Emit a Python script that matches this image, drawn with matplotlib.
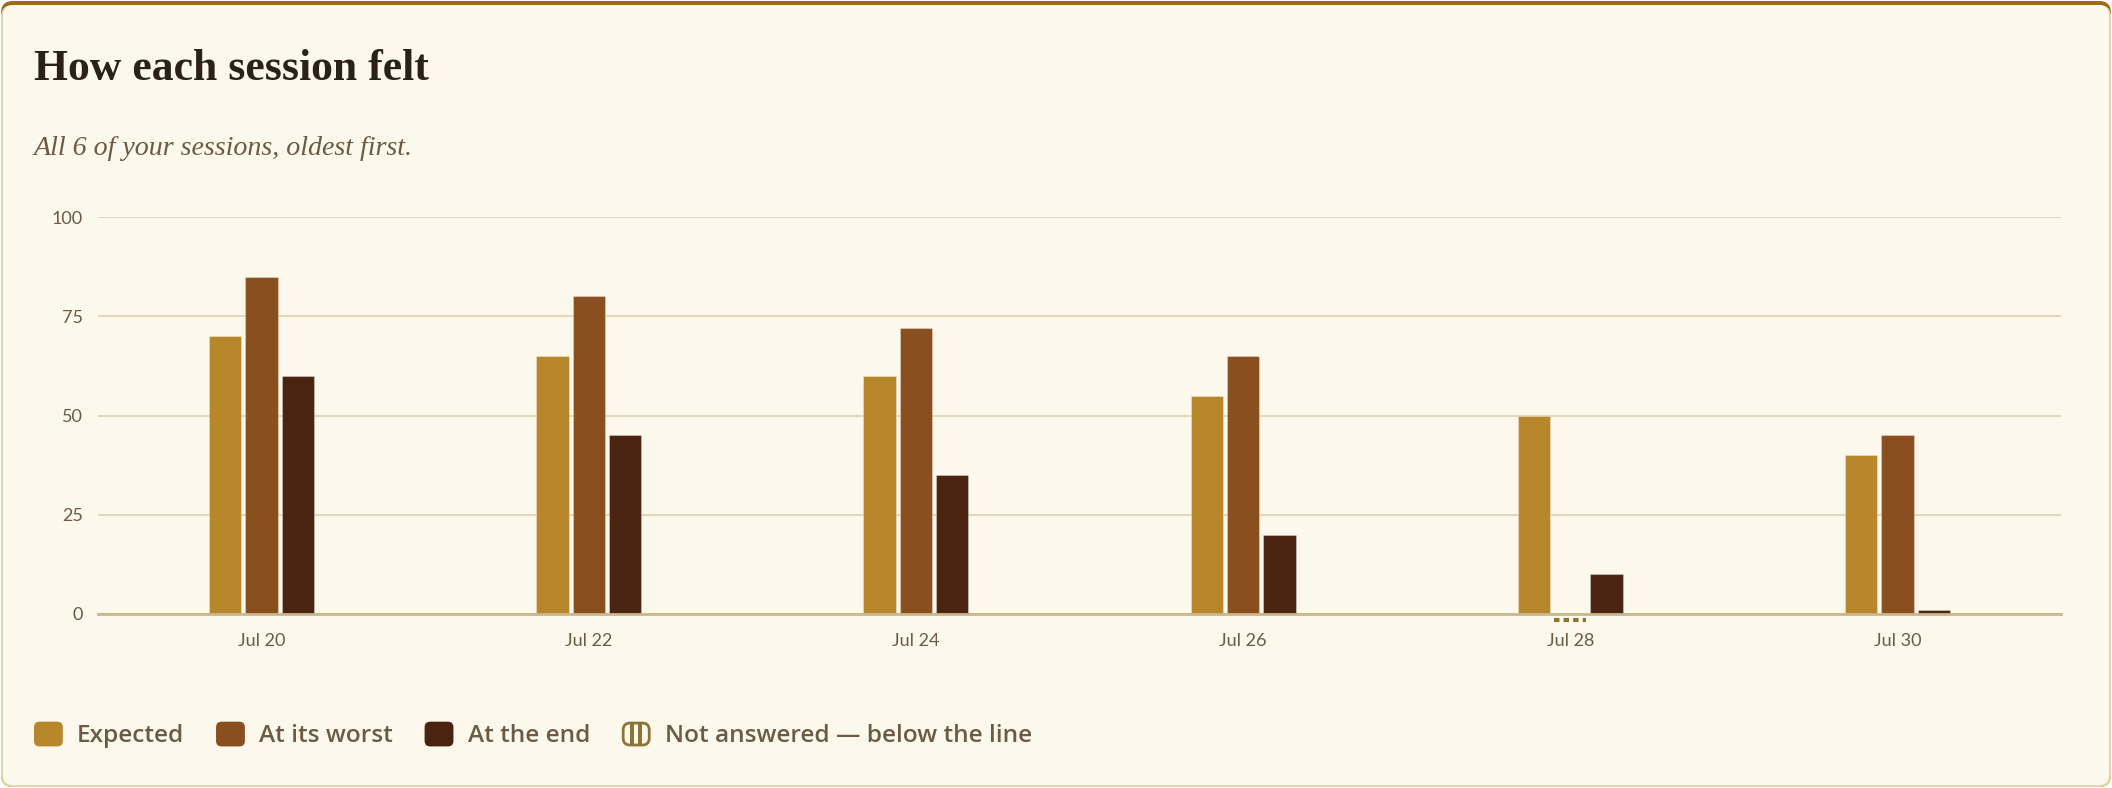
"""How each session felt: grouped bars per session."""

import numpy as np
import matplotlib
matplotlib.use("Agg")
import matplotlib.pyplot as plt
from matplotlib.patches import FancyBboxPatch, Patch, Rectangle
from matplotlib.legend_handler import HandlerPatch
from matplotlib.transforms import IdentityTransform

# ---------- Data ---------- #
dates = ["Jul 20", "Jul 22", "Jul 24", "Jul 26", "Jul 28", "Jul 30"]
expected = [70, 65, 60, 55, 50, 40]
worst = [85, 80, 72, 65, None, 45]
at_end = [60, 45, 35, 20, 10, 1]
series_names = ["Expected", "At its worst", "At the end"]
missing_label = "Not answered \u2014 below the line"
y_ticks = [0, 25, 50, 75, 100]

# ---------- Style ---------- #
W, H = 2112, 788
BG = "#FCF8EC"
GOLD = "#B8862B"
RUST = "#8A4F1F"
DARK = "#4A2311"
MISS = "#8B7536"
GRID = "#E3D8B5"
BASE = "#C9B889"
MUTED = "#6B5A45"
INK = "#2B2116"
colors = [GOLD, RUST, DARK]

SANS = ["Lato", "DejaVu Sans"]
LEG_SANS = ["Open Sans", "Lato", "DejaVu Sans"]
SERIF = ["Liberation Serif", "DejaVu Serif"]


class RoundHandler(HandlerPatch):
    """Legend swatch drawn as a small rounded box."""

    def create_artists(self, legend, orig_handle, xdescent, ydescent,
                       width, height, fontsize, trans):
        p = FancyBboxPatch(
            (-xdescent, -ydescent), width, height,
            boxstyle="round,pad=0,rounding_size=4",
            facecolor=orig_handle.get_facecolor(),
            edgecolor=orig_handle.get_edgecolor(),
            linewidth=orig_handle.get_linewidth(),
            transform=trans,
        )
        return [p]


class StripeHandler(HandlerPatch):
    """Outlined rounded box with two upright stripes."""

    def create_artists(self, legend, orig_handle, xdescent, ydescent,
                       width, height, fontsize, trans):
        x0, y0 = -xdescent, -ydescent
        box = FancyBboxPatch(
            (x0 + 1, y0 + 1), width - 2, height - 2,
            boxstyle="round,pad=0,rounding_size=5",
            facecolor=BG, edgecolor=orig_handle.get_edgecolor(),
            linewidth=2, transform=trans,
        )
        bw = width * 0.13
        s1 = Rectangle((x0 + width * 0.30, y0 + 1), bw, height - 2,
                       facecolor=orig_handle.get_edgecolor(), edgecolor="none", transform=trans)
        s2 = Rectangle((x0 + width * 0.57, y0 + 1), bw, height - 2,
                       facecolor=orig_handle.get_edgecolor(), edgecolor="none", transform=trans)
        return [box, s1, s2]


fig = plt.figure(figsize=(W / 100, H / 100), dpi=100)
fig.patch.set_facecolor("white")

# card with a gold top edge
px = IdentityTransform()
fig.add_artist(FancyBboxPatch((1, 1), W - 2, H - 2, boxstyle="round,pad=0,rounding_size=12",
                              fc="#9C6B13", ec="none", transform=px, zorder=-10))
fig.add_artist(FancyBboxPatch((1, 1), W - 2, H - 6, boxstyle="round,pad=0,rounding_size=12",
                              fc="#E3D5AF", ec="none", transform=px, zorder=-9))
fig.add_artist(FancyBboxPatch((3, 3), W - 6, H - 8, boxstyle="round,pad=0,rounding_size=10",
                              fc=BG, ec="none", transform=px, zorder=-8))

fig.text(34 / W, 1 - 80 / H, "How each session felt", fontsize=31.5, fontweight="bold",
         family=SERIF, color=INK, va="baseline")
fig.text(34 / W, 1 - 155 / H, "All 6 of your sessions, oldest first.", fontsize=20.2,
         style="italic", family=SERIF, color=MUTED, va="baseline")

# ---------- Axes ---------- #
ax = fig.add_axes([98 / W, 1 - 614 / H, (2061 - 98) / W, (614 - 217) / H])
ax.set_facecolor("none")
x = np.arange(len(dates))
step = 0.111
width = 0.099

for i, (name, vals) in enumerate(zip(series_names, [expected, worst, at_end])):
    off = (i - 1) * step
    xs = [xi + off for xi, v in zip(x, vals) if v is not None]
    hs = [v for v in vals if v is not None]
    ax.bar(xs, hs, width=width, color=colors[i], edgecolor=(1, 1, 1, 0.3),
           linewidth=0.8, zorder=3)
    for xi, v in zip(x, vals):
        if v is None:
            ax.hlines(-1.6, xi + off - width / 2, xi + off + width / 2, colors=MISS,
                      linewidth=3, linestyles=(0, (1.3, 1.0)), clip_on=False, zorder=4)

ax.set_xlim(-0.5, len(dates) - 0.5)
ax.set_ylim(0, 100)
ax.set_xticks(x)
ax.set_xticklabels(dates)
ax.set_yticks(y_ticks)
ax.grid(axis="y", color=GRID, linewidth=1.5, zorder=0)
ax.set_axisbelow(True)
for s in ["top", "right", "left"]:
    ax.spines[s].set_visible(False)
ax.spines["bottom"].set_color(BASE)
ax.spines["bottom"].set_linewidth(2)
ax.spines["bottom"].set_zorder(5)
ax.tick_params(axis="both", length=0, labelsize=13, labelcolor=MUTED)
ax.tick_params(axis="x", pad=14)
ax.tick_params(axis="y", pad=11)
for lab in ax.get_xticklabels() + ax.get_yticklabels():
    lab.set_family(SANS)

# ---------- Legend ---------- #
handles = [Patch(facecolor=c, edgecolor="none", linewidth=0) for c in colors]
missing_handle = Patch(facecolor=BG, edgecolor=MISS)
handles.append(missing_handle)
leg = fig.legend(
    handles, series_names + [missing_label],
    handler_map={Patch: RoundHandler(), missing_handle: StripeHandler()},
    loc="center left", bbox_to_anchor=(34 / W, 1 - 735 / H), ncol=4, frameon=False,
    handlelength=1.18, handleheight=1.18, handletextpad=0.58,
    columnspacing=1.3, borderpad=0, borderaxespad=0,
    prop={"family": LEG_SANS, "size": 17.6, "weight": "semibold"},
)
for t in leg.get_texts():
    t.set_color(MUTED)

fig.savefig("out.png", dpi=100, facecolor=fig.get_facecolor())
